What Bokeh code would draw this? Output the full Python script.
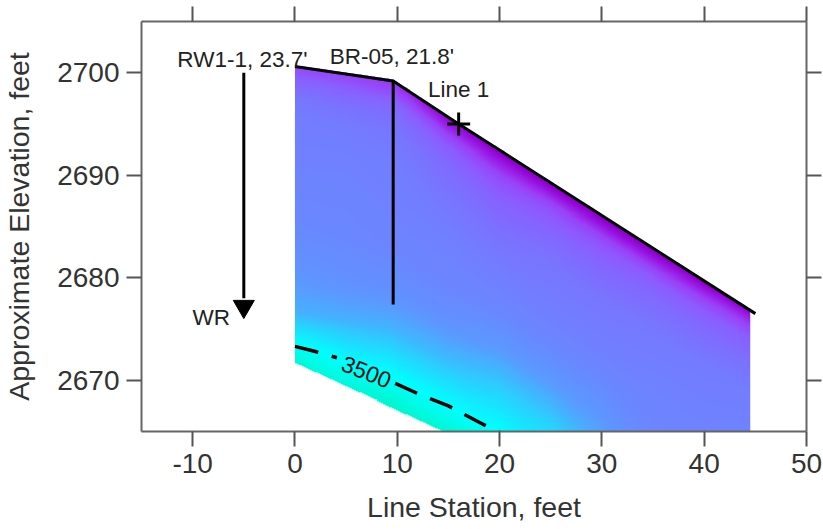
import numpy as np
from bokeh.plotting import figure
from bokeh.models import LinearAxis, LinearColorMapper, FixedTicker, Range1d, CustomJSTickFormatter
from bokeh.core.properties import value
from bokeh.embed import file_html
from bokeh.resources import INLINE

# ---------------- data ----------------
x_ticks = [-10, 0, 10, 20, 30, 40, 50]
y_ticks = [2670, 2680, 2690, 2700]

# ground surface along Line 1
topo_x = [0.0, 9.6, 16.0, 45.0]
topo_y = [2700.6, 2699.2, 2695.0, 2676.5]

# lower limit of the model (bottom-left)
base_x = [0.0, 14.5]
base_y = [2671.7, 2665.0]

# model right edge
model_right = 44.5

# velocity model (ft/s) by station (columns) and depth below surface (rows)
stations = [0, 5, 10, 15, 20, 25, 30, 35, 40, 45]
depths = [0, 1, 2, 3, 5, 8, 12, 16, 20, 24, 28, 32, 36]
velocity = [
    [1500, 1400, 1200, 800, 700, 700, 700, 700, 700, 800],
    [1800, 1700, 1500, 1100, 1000, 1000, 1000, 1000, 1100, 1200],
    [2100, 2000, 1900, 1500, 1300, 1400, 1400, 1400, 1500, 1600],
    [2300, 2200, 2100, 1800, 1600, 1700, 1700, 1800, 1800, 1900],
    [2450, 2400, 2300, 2100, 1900, 2000, 2000, 2100, 2100, 2200],
    [2500, 2500, 2450, 2300, 2200, 2300, 2300, 2350, 2400, 2450],
    [2550, 2550, 2500, 2500, 2450, 2450, 2450, 2500, 2500, 2550],
    [2620, 2600, 2550, 2550, 2600, 2600, 2600, 2550, 2550, 2600],
    [2750, 2700, 2680, 2720, 2850, 2850, 2800, 2600, 2600, 2600],
    [2950, 2950, 2950, 3050, 3200, 3200, 3000, 2700, 2650, 2650],
    [3700, 3480, 3400, 3480, 3550, 3400, 3100, 2800, 2700, 2700],
    [4100, 3950, 3900, 3950, 3900, 3600, 3300, 3000, 2800, 2800],
    [4200, 4200, 4100, 4100, 4000, 3800, 3500, 3200, 3000, 2900],
]

# 3500 ft/s contour (two pieces either side of its label)
contour_x1 = [0.0, 2.0, 4.1]
contour_y1 = [2673.3, 2672.8, 2672.2]
contour_x2 = [9.8, 12.0, 15.0, 18.0, 20.0]
contour_y2 = [2669.7, 2668.7, 2667.5, 2665.9, 2664.9]
contour_label = "3500"
contour_label_x = [7.0]
contour_label_y = [2670.85]

# boreholes
br_x = [9.6]
br_top = [2699.2]
br_bottom = [2677.4]
rw_x = [-5.0]
rw_top = [2700.0]
rw_bottom = [2678.0]
rw_arrow_y = [2677.2]

# line marker
line1_x = [16.0]
line1_y = [2695.0]

# annotations
ann_text = ["RW1-1, 23.7'", "BR-05, 21.8'", "Line 1"]
ann_x = [-11.5, 3.4, 13.0]
ann_y = [2701.3, 2701.6, 2698.4]
wr_text = ["WR"]
wr_x = [-6.35]
wr_y = [2676.15]

# colour scale anchors (velocity, colour)
scale_v = [500, 800, 1100, 1400, 1800, 2200, 2500, 2800, 3100, 3500, 3800, 4200]
scale_c = ["#8000c0", "#9000d0", "#9a1ee8", "#9a40f8", "#8c5cff", "#7c70ff",
           "#7080ff", "#5c98ff", "#30c8ff", "#00ffff", "#00f8d8", "#10f0b0"]

# ---------------- build palette ----------------
def hex2rgb(h):
    h = h.lstrip("#")
    return [int(h[i:i + 2], 16) for i in (0, 2, 4)]

rgb = np.array([hex2rgb(c) for c in scale_c], dtype=float)
vv = np.linspace(scale_v[0], scale_v[-1], 256)
palette = []
for v in vv:
    r = np.interp(v, scale_v, rgb[:, 0])
    g = np.interp(v, scale_v, rgb[:, 1])
    b = np.interp(v, scale_v, rgb[:, 2])
    palette.append("#%02x%02x%02x" % (int(round(r)), int(round(g)), int(round(b))))

cmap = LinearColorMapper(palette=palette, low=scale_v[0], high=scale_v[-1],
                         nan_color="rgba(0, 0, 0, 0)")

# ---------------- raster of the model ----------------
y0 = 2665.0
y1 = max(topo_y) + 0.1
nx, ny = 445, 360
dx = model_right / nx
dy = (y1 - y0) / ny
xs = (np.arange(nx) + 0.5) * dx
ys = y0 + (np.arange(ny) + 0.5) * dy
vel = np.array(velocity, dtype=float)
R = np.array([np.interp(xs, stations, row) for row in vel])
topo = np.interp(xs, topo_x, topo_y)
base = np.interp(xs, base_x, base_y)
D = topo[None, :] - ys[:, None]
img = np.empty((ny, nx))
for j in range(nx):
    img[:, j] = np.interp(D[:, j], depths, R[:, j])
mask = (D < 0) | (ys[:, None] < base[None, :])
img[mask] = np.nan

# ---------------- figure ----------------
FONT = "Liberation Sans"
p = figure(width=823, height=529, output_backend="svg", toolbar_location=None,
           x_range=Range1d(-15, 50), y_range=Range1d(2665, 2705),
           x_axis_location=None, y_axis_location=None,
           min_border_left=140, min_border_right=17, min_border_bottom=98,
           min_border_top=21)
p.xgrid.grid_line_color = None
p.ygrid.grid_line_color = None
p.outline_line_color = None
p.background_fill_color = "white"

blank = CustomJSTickFormatter(code="return ''")
plain = CustomJSTickFormatter(code="return tick.toString()")
bottom_axis = LinearAxis(ticker=FixedTicker(ticks=x_ticks), formatter=plain,
                         axis_label="Line Station, feet")
left_axis = LinearAxis(ticker=FixedTicker(ticks=y_ticks), formatter=plain,
                       axis_label="Approximate Elevation, feet")
top_axis = LinearAxis(ticker=FixedTicker(ticks=x_ticks), formatter=blank, major_label_standoff=0)
right_axis = LinearAxis(ticker=FixedTicker(ticks=y_ticks), formatter=blank, major_label_standoff=0)
p.add_layout(bottom_axis, "below")
p.add_layout(left_axis, "left")
p.add_layout(top_axis, "above")
p.add_layout(right_axis, "right")

for ax in [bottom_axis, left_axis, top_axis, right_axis]:
    ax.axis_line_color = "#666666"
    ax.axis_line_width = 2
    ax.major_tick_line_color = "#555555"
    ax.major_tick_line_width = 2
    ax.major_tick_out = 15
    ax.major_tick_in = 0
    ax.minor_tick_line_color = None
    ax.major_label_text_font = FONT
    ax.major_label_text_color = "#333333"
    ax.axis_label_text_font = FONT
    ax.axis_label_text_font_style = "normal"
    ax.axis_label_text_color = "#333333"

for ax in [bottom_axis, left_axis]:
    ax.major_label_text_font_size = "28px"
    ax.axis_label_text_font_size = "28.5px"
bottom_axis.major_label_standoff = 7
left_axis.major_label_standoff = 7
bottom_axis.axis_label_standoff = 15
left_axis.axis_label_standoff = 19

p.image(image=[img], x=0, y=y0, dw=model_right, dh=y1 - y0, color_mapper=cmap)

p.line(contour_x1, contour_y1, line_color="black", line_width=3.5, line_dash="24 14")
p.line(contour_x2, contour_y2, line_color="black", line_width=3.5, line_dash="24 14")
p.text(x=contour_label_x, y=contour_label_y, text=[contour_label], angle=-0.38,
       text_font=value(FONT), text_font_size=value("23px"),
       text_align="center", text_baseline="middle", text_color="#111111")

p.line(topo_x, topo_y, line_color="black", line_width=3)
p.segment(x0=br_x, y0=br_top, x1=br_x, y1=br_bottom, line_color="black", line_width=3)
p.segment(x0=rw_x, y0=rw_top, x1=rw_x, y1=rw_bottom, line_color="black", line_width=3)
p.scatter(x=rw_x, y=rw_arrow_y, marker="inverted_triangle", size=21,
          fill_color="black", line_color="black")
p.scatter(x=line1_x, y=line1_y, marker="cross", size=23, line_color="black", line_width=3)

p.text(x=ann_x, y=ann_y, text=ann_text, text_font=value(FONT),
       text_font_size=value("22.5px"), text_color="#222222",
       text_align="left", text_baseline="alphabetic")
p.text(x=wr_x, y=wr_y, text=wr_text, text_font=value(FONT),
       text_font_size=value("22.5px"), text_color="#222222",
       text_align="right", text_baseline="alphabetic")

open("out.html", "w").write(file_html(p, INLINE))
